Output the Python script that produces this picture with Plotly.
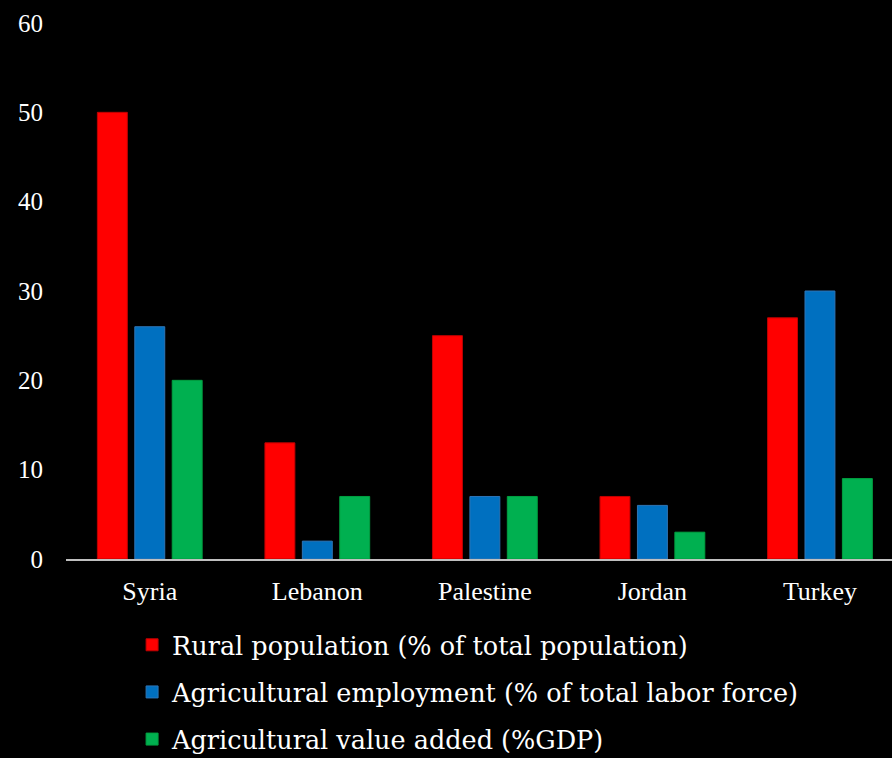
import plotly.graph_objects as go

countries = ["Syria", "Lebanon", "Palestine", "Jordan", "Turkey"]
rural_pop = [50, 13, 25, 7, 27]
agri_emp = [26, 2, 7, 6, 30]
agri_va = [20, 7, 7, 3, 9]
series_names = [
    "Rural population (% of total population)",
    "Agricultural employment (% of total labor force)",
    "Agricultural value added (%GDP)",
]
y_ticks = [0, 10, 20, 30, 40, 50, 60]

colors = ["#FF0000", "#0070C0", "#00B050"]
edges = ["#C00000", "#2E75B6", "#00A040"]

font = "Liberation Serif"

fig = go.Figure()
for i, (name, vals) in enumerate(zip(series_names, [rural_pop, agri_emp, agri_va])):
    fig.add_trace(go.Bar(
        x=countries, y=vals, name=name, legendgroup=f"g{i}",
        marker=dict(color=colors[i], line=dict(color=edges[i], width=1)),
    ))

fig.update_layout(
    width=892, height=758,
    paper_bgcolor="black", plot_bgcolor="black",
    margin=dict(l=66, r=0, t=23, b=199, autoexpand=False),
    barmode="group", bargap=0.33, bargroupgap=0.2,
    font=dict(family=font, color="white"),
    showlegend=True,
    legend=dict(
        orientation="v", x=0.08, xanchor="left", y=-0.117, yanchor="top",
        font=dict(family="DejaVu Serif", size=25.5, color="white"),
        traceorder="grouped", tracegroupgap=11,
        bgcolor="rgba(0,0,0,0)",
    ),
    xaxis=dict(
        range=[-0.5, 4.43],
        showgrid=False, showline=True, linecolor="#BFBFBF", linewidth=2,
        tickfont=dict(family=font, size=26, color="white"),
        ticks="", ticklabelstandoff=8,
    ),
    yaxis=dict(
        range=[0, 60], tickvals=y_ticks, showgrid=False, zeroline=False,
        showline=False, ticks="",
        tickfont=dict(family=font, size=25, color="white"),
        ticklabelstandoff=22,
    ),
)

fig.write_html("out.html")
